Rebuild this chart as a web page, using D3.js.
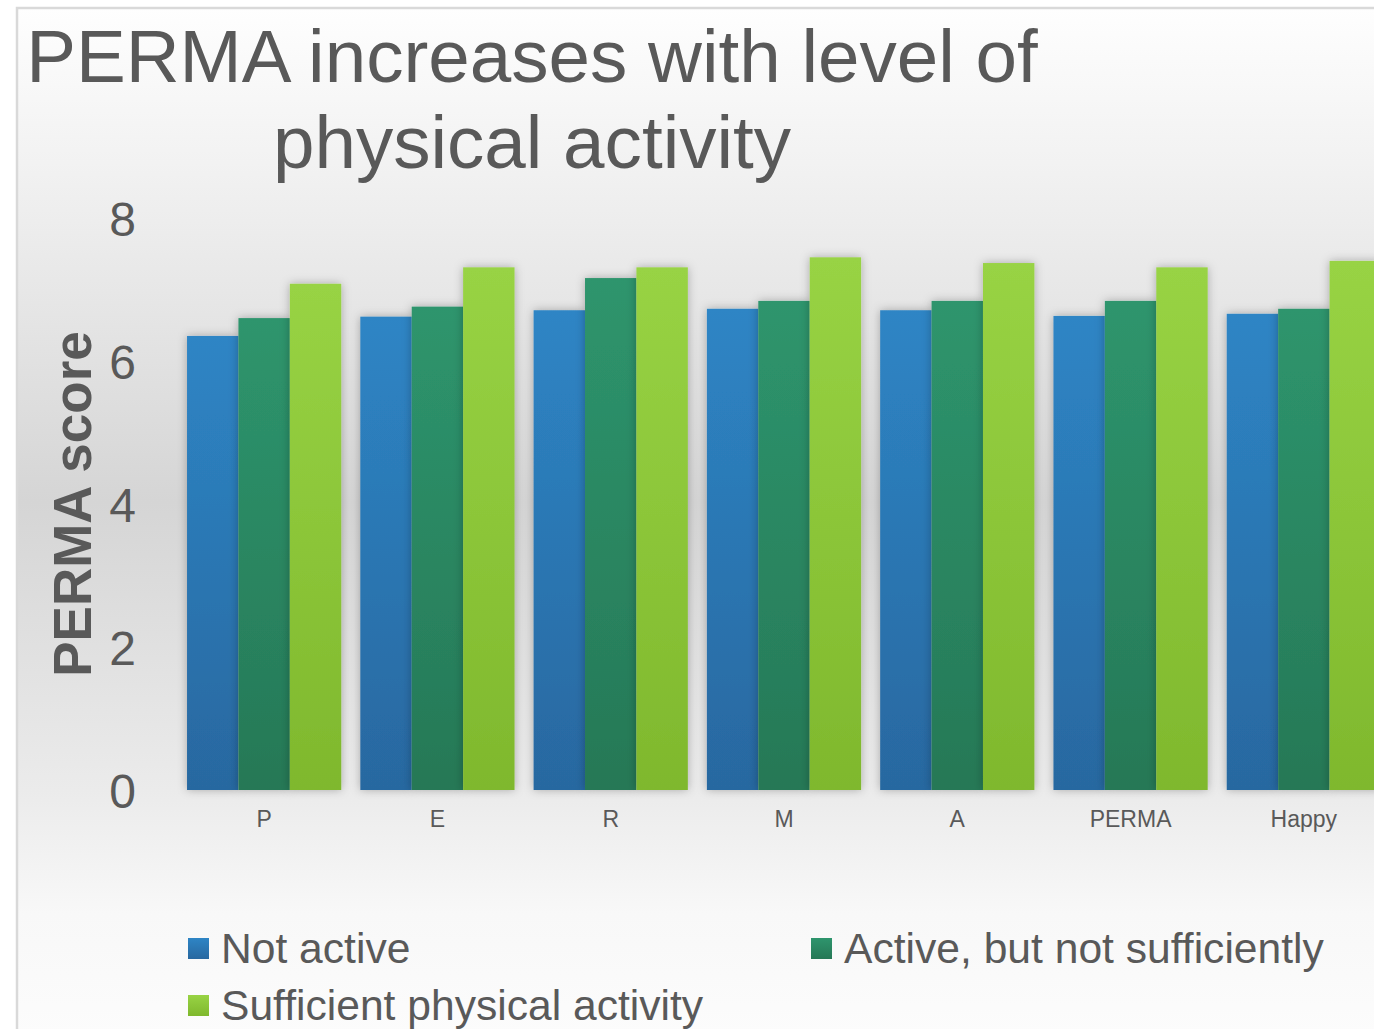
<!DOCTYPE html>
<html>
<head>
<meta charset="utf-8">
<script src="https://cdn.jsdelivr.net/npm/d3@7"></script>
<style>
  html, body { margin: 0; padding: 0; background: #ffffff; overflow: hidden; }
  svg { display: block; font-family: "Liberation Sans", Arial, sans-serif; }
</style>
</head>
<body>
<svg id="chart" width="1374" height="1029"></svg>
<script>
// PERMA dimensions plus overall happiness
const categories = ["P", "E", "R", "M", "A", "PERMA", "Happy"];
const seriesNames = ["Not active", "Active, but not sufficiently", "Sufficient physical activity"];
const notActive     = [6.35, 6.62, 6.71, 6.73, 6.71, 6.63, 6.66];
const activeNotSuff = [6.60, 6.76, 7.16, 6.84, 6.84, 6.84, 6.73];
const sufficient    = [7.08, 7.31, 7.31, 7.45, 7.37, 7.31, 7.40];
const yTicks = [0, 2, 4, 6, 8];
const titleLines = ["PERMA increases with level of", "physical activity"];

const seriesValues = [notActive, activeNotSuff, sufficient];
const seriesColors = [
  { top: "#2e85c5", bottom: "#2868a0" },
  { top: "#2e956d", bottom: "#267856" },
  { top: "#98d344", bottom: "#7fb82d" }
];
const textColor = "#595959";

const svg = d3.select("#chart");
const W = 1374, H = 1029;
const defs = svg.append("defs");

// chart area background: soft vertical gray wash
const bg = defs.append("linearGradient").attr("id", "bgGrad")
  .attr("x1", 0).attr("y1", 0).attr("x2", 0).attr("y2", 1);
[["0%", "#fefefe"], ["15%", "#f2f2f2"], ["48%", "#d5d5d5"], ["76%", "#ebebeb"], ["88%", "#f8f8f8"], ["100%", "#fcfcfc"]]
  .forEach(([o, c]) => bg.append("stop").attr("offset", o).attr("stop-color", c));

seriesColors.forEach((c, i) => {
  const g = defs.append("linearGradient").attr("id", "barGrad" + i)
    .attr("x1", 0).attr("y1", 0).attr("x2", 0).attr("y2", 1);
  g.append("stop").attr("offset", "0%").attr("stop-color", c.top);
  g.append("stop").attr("offset", "100%").attr("stop-color", c.bottom);
});

const shadow = defs.append("filter").attr("id", "barShadow")
  .attr("x", "-20%").attr("y", "-20%").attr("width", "140%").attr("height", "140%");
shadow.append("feDropShadow").attr("dx", 0).attr("dy", 0)
  .attr("stdDeviation", 5).attr("flood-color", "#000").attr("flood-opacity", 0.28);

svg.append("rect").attr("x", 17).attr("y", 8).attr("width", W).attr("height", H)
  .attr("fill", "url(#bgGrad)");
svg.append("path").attr("d", `M17,${H} V8 H${W}`)
  .attr("fill", "none").attr("stroke", "#d9d9d9").attr("stroke-width", 2.5);

// title
const title = svg.append("text").attr("fill", textColor).attr("font-size", 74.6)
  .attr("text-anchor", "middle");
titleLines.forEach((t, i) => {
  title.append("tspan").attr("x", 532).attr("y", 82 + i * 86).text(t);
});

// scales
const x0 = d3.scaleBand().domain(categories).range([177.5, 1390.5])
  .paddingInner(0.11).paddingOuter(0.055);
const x1 = d3.scaleBand().domain(d3.range(seriesNames.length)).range([0, x0.bandwidth()]);
const y = d3.scaleLinear().domain([0, 8]).range([790, 218]);

// y axis labels
const yAxis = svg.append("g").attr("transform", "translate(136,0)")
  .call(d3.axisLeft(y).tickValues(yTicks).tickSize(0).tickPadding(0).tickFormat(d3.format("d")));
yAxis.select(".domain").remove();
yAxis.selectAll("text").attr("fill", textColor).attr("font-size", 48)
  .attr("font-family", "Liberation Sans, Arial, sans-serif").attr("dy", "0.36em");

// bars
const groups = svg.append("g").selectAll("g").data(categories).join("g")
  .attr("transform", d => `translate(${x0(d)},0)`);
groups.selectAll("rect")
  .data((d, ci) => seriesValues.map((vals, si) => ({ si, v: vals[ci] })))
  .join("rect")
  .attr("x", d => x1(d.si))
  .attr("y", d => y(d.v))
  .attr("width", x1.bandwidth())
  .attr("height", d => y(0) - y(d.v))
  .attr("fill", d => `url(#barGrad${d.si})`)
  .attr("filter", "url(#barShadow)");

// x axis labels
const xAxis = svg.append("g").attr("transform", "translate(0,790)")
  .call(d3.axisBottom(x0).tickSize(0).tickPadding(21));
xAxis.select(".domain").remove();
xAxis.selectAll("text").attr("fill", textColor).attr("font-size", 23)
  .attr("font-family", "Liberation Sans, Arial, sans-serif");

// y axis title
svg.append("text").attr("transform", "translate(91,504) rotate(-90)")
  .attr("text-anchor", "middle").attr("fill", textColor)
  .attr("font-size", 53).attr("font-weight", "bold").text("PERMA score");

// legend
const legendPos = [[188, 938], [811, 938], [188, 995]];
const legend = svg.append("g").selectAll("g").data(seriesNames).join("g")
  .attr("transform", (d, i) => `translate(${legendPos[i][0]},${legendPos[i][1]})`);
legend.append("rect").attr("width", 21).attr("height", 21)
  .attr("fill", (d, i) => `url(#barGrad${i})`);
legend.append("text").attr("x", 33).attr("y", 25).attr("fill", textColor)
  .attr("font-size", 42.6).text(d => d);
</script>
</body>
</html>
